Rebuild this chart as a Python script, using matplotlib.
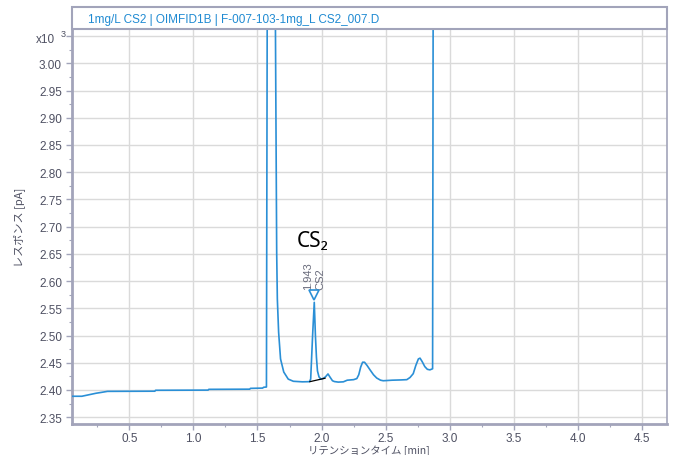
import matplotlib.pyplot as plt
from matplotlib.patches import Rectangle
from matplotlib.ticker import FixedLocator, MultipleLocator

# FID trace, response in units of 10^3 pA; 3.2 marks the off-scale solvent / late peaks
ret_time = [
    0.051, 0.130, 0.160, 0.200, 0.240, 0.280, 0.330, 0.700, 0.705, 1.115,
    1.120, 1.440, 1.445, 1.540, 1.548, 1.570, 1.577, 1.637, 1.650, 1.655,
    1.665, 1.680, 1.705, 1.740, 1.780, 1.850, 1.905, 1.915, 1.930, 1.943,
    1.952, 1.960, 1.968, 1.980, 1.995, 2.010, 2.030, 2.050, 2.065, 2.085,
    2.100, 2.130, 2.170, 2.200, 2.250, 2.275, 2.290, 2.305, 2.320, 2.335,
    2.355, 2.378, 2.405, 2.430, 2.460, 2.481, 2.550, 2.620, 2.665, 2.690,
    2.715, 2.735, 2.755, 2.768, 2.785, 2.805, 2.825, 2.845, 2.866, 2.871,
]
response = [
    2.3885, 2.3885, 2.390, 2.392, 2.394, 2.3955, 2.3975, 2.3978, 2.3995, 2.3998,
    2.4012, 2.4015, 2.4030, 2.4035, 2.4050, 2.4055, 3.2, 3.2, 2.650, 2.567,
    2.506, 2.457, 2.433, 2.420, 2.416, 2.415, 2.4153, 2.420, 2.500, 2.561,
    2.500, 2.460, 2.435, 2.424, 2.420, 2.421, 2.424, 2.4295, 2.424, 2.417,
    2.4155, 2.4145, 2.415, 2.418, 2.419, 2.421, 2.428, 2.442, 2.451, 2.451,
    2.445, 2.437, 2.428, 2.422, 2.418, 2.417, 2.418, 2.4185, 2.419, 2.423,
    2.430, 2.445, 2.457, 2.4585, 2.452, 2.443, 2.438, 2.437, 2.439, 3.2,
]

# integration baseline under the CS2 peak
base_time = [1.909, 2.027]
base_resp = [2.4153, 2.4216]

peak_time = 1.943
peak_name = "CS2"
marker_resp = 2.574
label_resp = 2.585

x_ticks = [0.5, 1.0, 1.5, 2.0, 2.5, 3.0, 3.5, 4.0, 4.5]
y_ticks = [2.35, 2.40, 2.45, 2.50, 2.55, 2.60, 2.65, 2.70, 2.75, 2.80,
           2.85, 2.90, 2.95, 3.00, 3.05]
y_tick_labels = ["2.35", "2.40", "2.45", "2.50", "2.55", "2.60", "2.65", "2.70",
                 "2.75", "2.80", "2.85", "2.90", "2.95", "3.00", ""]

title = "1mg/L CS2 | OIMFID1B | F-007-103-1mg_L CS2_007.D"

trace_color = "#2a8fd6"
frame_color = "#a2a4ba"
label_color = "#4e5062"
jp_font = ["Noto Sans CJK JP", "DejaVu Sans"]

plt.rcParams["font.family"] = ["Liberation Sans", "DejaVu Sans"]

W, H = 675, 456
fig = plt.figure(figsize=(W / 100, H / 100), dpi=100)
ax = fig.add_axes([71.7 / W, 1 - 425.3 / H, 595 / W, 395.3 / H])

ax.plot(ret_time, response, color=trace_color, lw=1.2, zorder=3)
ax.plot(base_time, base_resp, color="black", lw=0.9, zorder=4)
ax.plot([peak_time], [marker_resp], marker="v", ms=7, mfc="white",
        mec=trace_color, mew=1.2, ls="none", zorder=5)

ax.text(peak_time - 0.052, label_resp, f"{peak_time:.3f}", rotation=90,
        ha="center", va="bottom", fontsize=8, color="#6a6c7c")
ax.text(peak_time + 0.05, label_resp, peak_name, rotation=90, ha="center",
        va="bottom", fontsize=8, color="#6a6c7c")
ax.text(1.806, 2.665, "CS₂", fontsize=15, color="black", family="Noto Sans",
        va="baseline")

ax.set_xlim(0.051, 4.692)
ax.set_ylim(2.337, 3.063)

ax.xaxis.set_major_locator(FixedLocator(x_ticks))
ax.xaxis.set_minor_locator(MultipleLocator(0.25))
ax.set_xticklabels([f"{v:.1f}" for v in x_ticks])
ax.yaxis.set_major_locator(FixedLocator(y_ticks))
ax.yaxis.set_minor_locator(MultipleLocator(0.025))
ax.set_yticklabels(y_tick_labels)

ax.grid(True, which="major", color="#dadada", lw=1.0, zorder=0)
ax.tick_params(which="major", length=4, width=1, color=frame_color,
               labelsize=8.5, labelcolor=label_color, pad=3)
ax.tick_params(axis="x", which="major", pad=1.5)
ax.tick_params(which="minor", length=2.5, width=0.8, color=frame_color)

for side in ("left", "bottom"):
    ax.spines[side].set_color(frame_color)
    ax.spines[side].set_linewidth(2.0)
for side in ("top", "right"):
    ax.spines[side].set_color(frame_color)
    ax.spines[side].set_linewidth(1.2)

# axis titles placed in figure pixels so the x title stays inside the canvas
fig.text(369 / W, 1 - 451 / H, "リテンションタイム [min]", family=jp_font,
         fontsize=7.5, color=label_color, ha="center", va="center")
fig.text(19 / W, 1 - 227 / H, "レスポンス [pA]", family=jp_font, fontsize=8,
         color=label_color, ha="center", va="center", rotation=90)

# exponent marker for the y axis
fig.text(55 / W, 1 - 43 / H, "x10", ha="right", va="baseline", fontsize=8.5,
         color=label_color)
fig.text(61 / W, 1 - 37 / H, "3", ha="left", va="baseline", fontsize=6.5,
         color=label_color)

# header strip with the sample / signal / file name
fig.add_artist(Rectangle((71.7 / W, 1 - 30 / H), 595 / W, 21.7 / H,
                         transform=fig.transFigure, facecolor="white",
                         edgecolor=frame_color, lw=1.5))
fig.text(88 / W, 1 - 19.5 / H, title, ha="left", va="center", fontsize=8.5,
         color="#1f8ad2")

fig.savefig("out.png", dpi=100)
plt.close(fig)
